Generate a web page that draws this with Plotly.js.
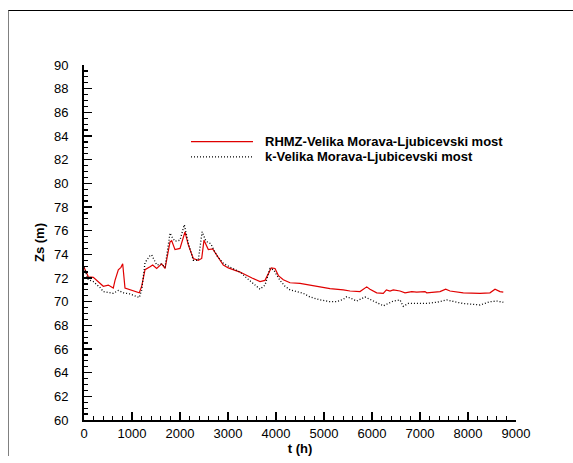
<!DOCTYPE html>
<html>
<head>
<meta charset="utf-8">
<script src="https://cdn.plot.ly/plotly-3.0.1.min.js"></script>
<style>
  html, body { margin: 0; padding: 0; background: #fff; }
  #chart { width: 573px; height: 463px; position: absolute; left: 0; top: 0; }
  #frame { position: absolute; left: 8px; top: 10px; width: 600px; height: 445px;
           border-top: 1px solid #000; border-left: 1px solid #808080; pointer-events: none; }
</style>
</head>
<body>
<div id="chart"></div>
<div id="frame"></div>
<script>
// Series names
const seriesNames = ["RHMZ-Velika Morava-Ljubicevski most", "k-Velika Morava-Ljubicevski most"];

// RHMZ (measured) series
const tRhmz = [0, 40, 90, 194, 333, 402, 506, 610, 646, 715, 770, 806, 854, 958, 1098, 1152, 1202, 1271, 1375, 1431, 1514, 1619, 1688, 1757, 1792, 1827, 1896, 2000, 2104, 2173, 2277, 2381, 2452, 2500, 2590, 2681, 2765, 2902, 3006, 3250, 3500, 3667, 3771, 3850, 3900, 3979, 4050, 4152, 4292, 4500, 4708, 4917, 5125, 5402, 5542, 5750, 5890, 5958, 6098, 6235, 6300, 6375, 6444, 6583, 6688, 6827, 6931, 7104, 7140, 7417, 7535, 7625, 7902, 8250, 8458, 8563, 8667, 8735];
const zRhmz = [72.9, 72.6, 72.1, 72.05, 71.55, 71.3, 71.4, 71.15, 71.8, 72.7, 72.9, 73.2, 71.15, 71.0, 70.85, 70.75, 71.3, 72.7, 72.95, 73.1, 72.8, 73.2, 72.8, 74.4, 75.05, 75.15, 74.4, 74.5, 75.9, 74.8, 73.65, 73.5, 73.65, 75.2, 74.4, 74.45, 73.95, 73.1, 72.85, 72.5, 72.0, 71.7, 71.8, 72.5, 72.85, 72.8, 72.2, 71.85, 71.6, 71.55, 71.4, 71.25, 71.1, 71.0, 70.9, 70.85, 71.25, 71.05, 70.75, 70.7, 71.0, 70.9, 71.0, 70.9, 70.75, 70.85, 70.8, 70.85, 70.75, 70.85, 71.05, 70.9, 70.75, 70.7, 70.75, 71.05, 70.85, 70.8];

// k (computed) series
const tK = [0, 40, 90, 194, 333, 402, 540, 610, 715, 820, 958, 1098, 1152, 1202, 1271, 1375, 1410, 1515, 1619, 1688, 1792, 1827, 1896, 2000, 2090, 2173, 2277, 2381, 2460, 2542, 2640, 2765, 2902, 3006, 3250, 3390, 3667, 3771, 3875, 3950, 4083, 4188, 4292, 4431, 4569, 4708, 4917, 5125, 5265, 5402, 5473, 5577, 5681, 5854, 5958, 6098, 6235, 6444, 6583, 6652, 6756, 6931, 7140, 7348, 7556, 7765, 7902, 8250, 8458, 8598, 8735];
const zK = [72.9, 72.5, 71.85, 71.7, 71.2, 70.85, 70.75, 70.7, 70.95, 70.75, 70.65, 70.42, 70.35, 71.0, 73.3, 73.9, 73.95, 73.1, 73.2, 72.9, 75.8, 75.5, 75.1, 75.2, 76.5, 74.95, 73.5, 73.5, 75.9, 75.1, 74.9, 73.9, 73.25, 73.0, 72.5, 72.0, 71.05, 71.4, 72.8, 72.7, 71.8, 71.3, 71.0, 70.85, 70.7, 70.4, 70.15, 70.0, 70.0, 70.2, 70.42, 70.25, 70.05, 70.4, 70.2, 69.9, 69.65, 70.05, 70.15, 69.6, 69.85, 69.85, 69.85, 69.95, 70.15, 69.95, 69.85, 69.72, 70.0, 70.05, 69.95];

const FONT = '"Liberation Sans", Arial, sans-serif';
const RED = '#e00000';
const DOT = '1px,2px';

const traces = [
  { x: tRhmz, y: zRhmz, type: 'scatter', mode: 'lines', name: seriesNames[0],
    line: { color: RED, width: 1.2 }, showlegend: false },
  { x: tK, y: zK, type: 'scatter', mode: 'lines', name: seriesNames[1],
    line: { color: '#000000', width: 1.3, dash: DOT }, showlegend: false }
];

// legend drawn in paper coordinates
const legY = [0.784, 0.741];
const shapes = [
  { type: 'line', xref: 'paper', yref: 'paper', x0: 0.2477, x1: 0.3912, y0: legY[0], y1: legY[0],
    line: { color: RED, width: 1.2 } },
  { type: 'line', xref: 'paper', yref: 'paper', x0: 0.2477, x1: 0.3912, y0: legY[1], y1: legY[1],
    line: { color: '#000000', width: 1.2, dash: DOT } }
];
const annotations = seriesNames.map((n, i) => ({
  text: '<b>' + n + '</b>', xref: 'paper', yref: 'paper', x: 0.4144, y: legY[i],
  xanchor: 'left', yanchor: 'middle', showarrow: false,
  font: { family: FONT, size: 13, color: '#000' }
}));

const layout = {
  width: 573, height: 463,
  margin: { l: 84, r: 57, t: 65, b: 43 },
  paper_bgcolor: 'rgba(0,0,0,0)', plot_bgcolor: 'rgba(0,0,0,0)',
  font: { family: FONT, size: 13, color: '#000' },
  xaxis: {
    range: [0, 9000], dtick: 1000, tick0: 0,
    ticks: 'inside', ticklen: 8, tickwidth: 1.5, tickcolor: '#000',
    minor: { dtick: 200, ticks: 'inside', ticklen: 4, tickwidth: 1.2, tickcolor: '#000', showgrid: false },
    showline: true, linecolor: '#000', linewidth: 2, showgrid: false, zeroline: false,
    ticklabelstandoff: 0,
    tickfont: { family: FONT, size: 13, color: '#000' },
    title: { text: '<b>t (h)</b>', font: { family: FONT, size: 13, color: '#000' }, standoff: 0 }
  },
  yaxis: {
    range: [60, 90], dtick: 2, tick0: 60,
    ticks: 'inside', ticklen: 8, tickwidth: 1.5, tickcolor: '#000',
    minor: { dtick: 0.5, ticks: 'inside', ticklen: 4, tickwidth: 1.2, tickcolor: '#000', showgrid: false },
    showline: true, linecolor: '#000', linewidth: 2, showgrid: false, zeroline: false,
    ticklabelposition: 'outside', ticklabelstandoff: 11,
    tickfont: { family: FONT, size: 13, color: '#000' },
    title: { text: '<b>Zs (m)</b>', font: { family: FONT, size: 13, color: '#000' }, standoff: 6 }
  },
  shapes: shapes,
  annotations: annotations
};

Plotly.newPlot('chart', traces, layout, { displayModeBar: false, staticPlot: true });
</script>
</body>
</html>
